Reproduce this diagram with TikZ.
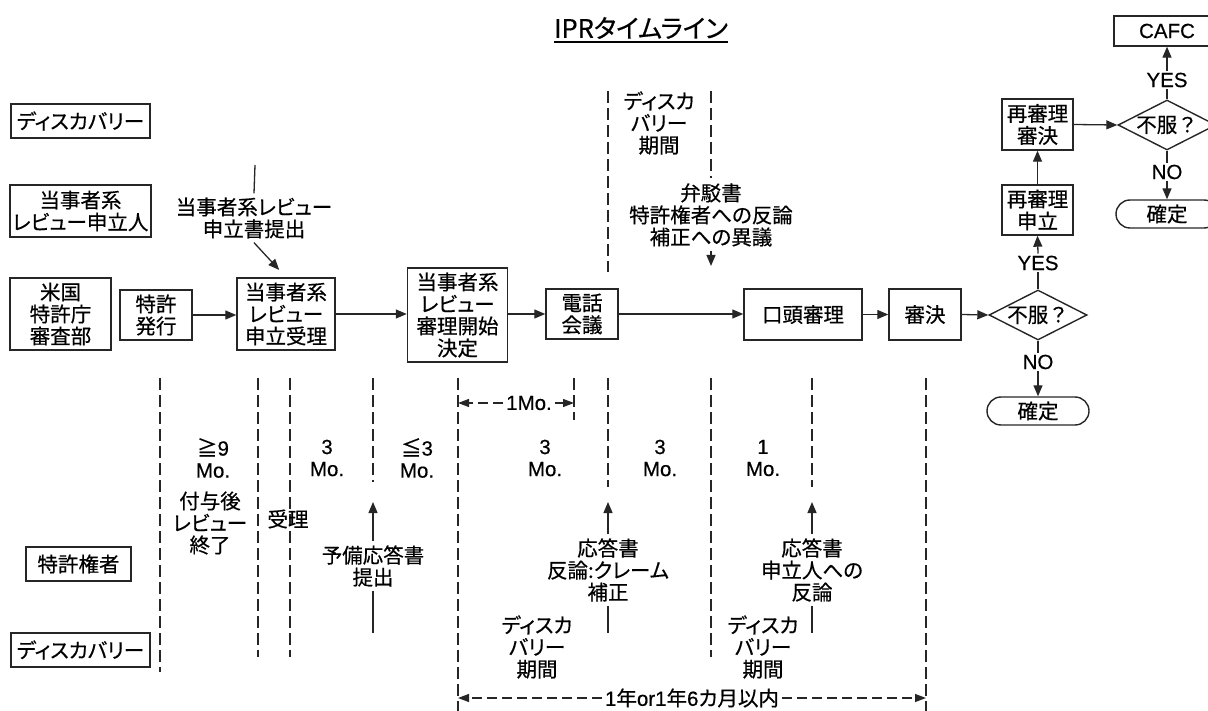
\documentclass[tikz,border=0pt]{standalone}
\usepackage{fontspec}
\setmainfont{Noto Sans CJK JP}[RawFeature=+palt, FakeBold=0.5]
\newfontfamily\jpf{Noto Sans CJK JP}[FakeBold=0.5]
\newfontfamily\lat{Liberation Sans}[FakeBold=0.4]
\usetikzlibrary{arrows.meta,shapes.geometric,shapes.misc}
\begin{document}
\begin{tikzpicture}[x=1pt,y=-1pt,
  every node/.style={font=\fontsize{20.5}{22}\selectfont, align=center, inner sep=0pt},
  box/.style={draw=black!85, line width=1.4pt},
  dia/.style={draw=black!85, line width=1.4pt, shape=diamond, aspect=2, minimum width=98pt, minimum height=50pt},
  stad/.style={draw=black!85, line width=1.4pt, shape=rounded rectangle, minimum width=102pt, minimum height=28pt},
  ln/.style={draw=black!85, line width=1.3pt},
  arr/.style={ln, -{Triangle[length=11pt,width=9pt]}},
  dl/.style={ln, dash pattern=on 12pt off 5pt},
  darr/.style={ln, dash pattern=on 10pt off 5pt, -{Triangle[length=11pt,width=8pt]}},
  lab/.style={inner sep=2pt},
  ann/.style={inner sep=4pt}]
\useasboundingbox (0,0) rectangle (1208,711);
\clip (0,0) rectangle (1208,711);

% title
\node[font=\fontsize{25.5}{30}\selectfont] (title) at (641,28) {IPRタイムライン};
\draw[line width=1.6pt] ([yshift=-3pt]title.south west) -- ([yshift=-3pt]title.south east);

% left column boxes
\node[box, minimum width=139pt, minimum height=34pt] (disc1) at (80.5,121) {ディスカバリー};
\node[box, minimum width=141pt, minimum height=52pt] (party) at (80.5,211) {当事者系\\レビュー申立人};
\node[box, minimum width=101pt, minimum height=72pt] (uspto) at (60.5,314) {米国\\特許庁\\審査部};
\node[box, minimum width=105pt, minimum height=34pt] (owner) at (78.5,564) {特許権者};
\node[box, minimum width=139pt, minimum height=34pt] (disc2) at (80.5,650) {ディスカバリー};

% main flow
\node[box, minimum width=72pt, minimum height=50pt] (patent) at (156,315) {特許\\発行};
\node[box, minimum width=98pt, minimum height=72pt] (accept) at (286,314) {当事者系\\レビュー\\申立受理};
\node[box, minimum width=100pt, minimum height=94pt] (inst) at (457.5,315) {当事者系\\レビュー\\審理開始\\決定};
\node[box, minimum width=72pt, minimum height=50pt] (conf) at (582,314) {電話\\会議};
\node[box, minimum width=118pt, minimum height=51pt] (oral) at (803,314.5) {口頭審理};
\node[box, minimum width=72pt, minimum height=51pt] (decision) at (925,314.5) {審決};
\node[dia] (d1) at (1038,315) {\jpf 不服？};
\node[stad] (final1) at (1038,411) {確定};
\node[lab] (yes1) at (1038,263) {\lat YES};
\node[lab] (no1) at (1038,362) {\lat NO};
\node[box, minimum width=71pt, minimum height=50pt] (rehreq) at (1037.5,210) {再審理\\申立};
\node[box, minimum width=71pt, minimum height=51pt] (rehdec) at (1037.5,124.5) {再審理\\審決};
\node[dia] (d2) at (1167,125) {\jpf 不服？};
\node[box, minimum width=106pt, minimum height=30pt] (cafc) at (1167,31) {\lat CAFC};
\node[stad] (final2) at (1167,214) {確定};
\node[lab] (yes2) at (1167,80) {\lat YES};
\node[lab] (no2) at (1167,172) {\lat NO};

\draw[arr] (patent.east) -- (accept.west |- patent.east);
\draw[arr] (accept.east) -- (inst.west |- accept.east);
\draw[arr] (inst.east |- conf.west) -- (conf.west);
\draw[arr] (conf.east) -- (oral.west |- conf.east);
\draw[arr] (oral.east) -- (decision.west);
\draw[arr] (decision.east) -- (d1.west);
\draw[ln] (d1.south) -- (no1.north);
\draw[arr] (no1.south) -- (final1.north);
\draw[ln] (d1.north) -- (yes1.south);
\draw[arr] (yes1.north) -- (rehreq.south);
\draw[arr] (rehreq.north) -- (rehdec.south);
\draw[arr] (rehdec.east) -- (d2.west);
\draw[ln] (d2.north) -- (yes2.south);
\draw[arr] (yes2.north) -- (cafc.south);
\draw[ln] (d2.south) -- (no2.north);
\draw[arr] (no2.south) -- (final2.north);

% top annotations
\coordinate (pettop) at (255,165);
\node[ann] (pet) at (254,218) {当事者系レビュー\\申立書提出};
\draw[ln] (pettop) -- (pet.north);
\draw[arr, shorten >=10pt] (pet.south) -- (accept.north);

\coordinate (td1t) at (608,91);
\coordinate (td1b) at (608,272);
\coordinate (td2t) at (711,91);
\coordinate (td2b) at (711,178);
\draw[dl] (td1t) -- (td1b);
\draw[dl] (td2t) -- (td2b);
\node (tdisc) at (659,123) {ディスカ\\バリー\\期間};
\node[ann] (reb) at (711,215) {弁駁書\\特許権者への反論\\補正への異議};
\coordinate (rebtip) at (711,266);
\draw[arr] (reb.south) -- (rebtip);

% bottom dashed timeline
\foreach \n/\x/\b in {a/160/672, b/258/657, c/290/657, d/373/482, e/458/711, f/574/420, g/608/487, h/711/657, i/812/487, j/926/711}{
  \coordinate (\n t) at (\x,378);
  \coordinate (\n b) at (\x,\b);
  \draw[dl] (\n t) -- (\n b);
}

% month labels
\node (m1) at (213,458) {≧{\lat 9}\\{\lat Mo.}};
\node (m2) at (327,458) {{\lat 3}\\{\lat Mo.}};
\node (m3) at (417,458) {≦{\lat 3}\\{\lat Mo.}};
\node (m4) at (545,458) {{\lat 3}\\{\lat Mo.}};
\node (m5) at (660,458) {{\lat 3}\\{\lat Mo.}};
\node (m6) at (763,458) {{\lat 1}\\{\lat Mo.}};

\node (endrev) at (210,523) {付与後\\レビュー\\終了};
\node (recv) at (288,519) {受理};

% 1Mo arrow
\node[inner sep=3pt] (onemo) at (529,403) {\lat 1Mo.};
\coordinate (oml) at (458,403);
\coordinate (omr) at (574,403);
\draw[darr] (onemo.west) -- (oml);
\draw[darr] (onemo.east) -- (omr);

% responses
\node[ann] (prelim) at (373,566) {予備応答書\\提出};
\coordinate (prtip) at (373,502);
\coordinate (prbot) at (373,633);
\draw[arr] (prelim.north) -- (prtip);
\draw[ln] (prbot) -- (prelim.south);

\node[ann] (resp1) at (608,570) {応答書\\反論:クレーム\\補正};
\coordinate (r1tip) at (608,502);
\coordinate (r1bot) at (608,633);
\draw[arr] (resp1.north) -- (r1tip);
\draw[ln] (r1bot) -- (resp1.south);

\node[ann] (resp2) at (812,570) {応答書\\申立人への\\反論};
\coordinate (r2tip) at (812,502);
\coordinate (r2bot) at (812,633);
\draw[arr] (resp2.north) -- (r2tip);
\draw[ln] (r2bot) -- (resp2.south);

\node (bdisc1) at (537,647) {ディスカ\\バリー\\期間};
\node (bdisc2) at (763,647) {ディスカ\\バリー\\期間};

% total period arrow
\node[inner sep=3pt] (total) at (692,698) {{\lat 1}年{\lat or1}年{\lat 6}カ月以内};
\coordinate (totl) at (458,698);
\coordinate (totr) at (926,698);
\draw[darr] (total.west) -- (totl);
\draw[darr] (total.east) -- (totr);
\end{tikzpicture}
\end{document}
